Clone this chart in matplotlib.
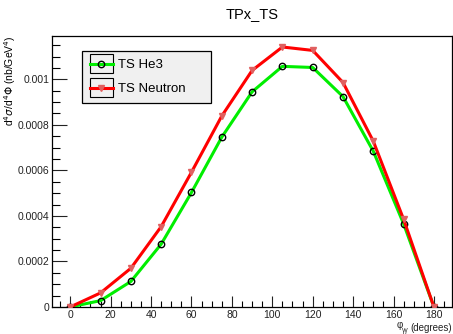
import matplotlib
matplotlib.use("Agg")
import matplotlib.pyplot as plt
from matplotlib.legend_handler import HandlerLine2D
from matplotlib.patches import Rectangle
from matplotlib.ticker import MultipleLocator, FixedFormatter, FixedLocator

phi = [0, 15, 30, 45, 60, 75, 90, 105, 120, 135, 150, 165, 180]
ts_he3 = [0.0, 0.0000278, 0.000112, 0.000276, 0.000503, 0.000746, 0.000945,
          0.001057, 0.001052, 0.000924, 0.000684, 0.000365, 0.0]
ts_neutron = [0.0, 0.0000618, 0.000170, 0.000353, 0.000592, 0.000839, 0.001039,
              0.001142, 0.001127, 0.000986, 0.000728, 0.000385, 0.0]

x_ticks = [0, 20, 40, 60, 80, 100, 120, 140, 160, 180]
y_ticks = [0, 0.0002, 0.0004, 0.0006, 0.0008, 0.001]
y_labels = ["0", "0.0002", "0.0004", "0.0006", "0.0008", "0.001"]

plt.rcParams['font.family'] = ['Liberation Sans', 'DejaVu Sans']


class BoxedLine(HandlerLine2D):
    # ROOT style legend symbol: line + marker inside a small frame
    def create_artists(self, legend, orig_handle, xdescent, ydescent,
                       width, height, fontsize, trans):
        artists = super().create_artists(legend, orig_handle, xdescent, ydescent,
                                         width, height, fontsize, trans)
        box = Rectangle((-xdescent, -ydescent - 0.5 * height), width, height * 2.0,
                        facecolor='none', edgecolor='black', lw=0.8, transform=trans)
        return [box] + list(artists)


fig = plt.figure(figsize=(4.53, 3.34), dpi=100)
ax = fig.add_axes([0.115, 0.081, 0.883, 0.811])

ax.plot(phi, ts_he3, color='#00ee00', lw=2.2, marker='o', ms=4.6,
        mfc='none', mec='black', mew=1.0, label='TS He3', zorder=3)
ax.plot(phi, ts_neutron, color='#ff0000', lw=2.2, marker='v', ms=4,
        mfc='#e06060', mec='#e06060', label='TS Neutron', zorder=4)

ax.set_xticks(x_ticks)
ax.set_xlim(-9, 189)
ax.set_ylim(0, 0.00119)
ax.xaxis.set_minor_locator(MultipleLocator(5))
ax.yaxis.set_major_locator(FixedLocator(y_ticks))
ax.yaxis.set_major_formatter(FixedFormatter(y_labels))
ax.yaxis.set_minor_locator(MultipleLocator(0.00005))
ax.tick_params(axis='both', which='major', direction='in', width=0.8,
               labelsize=7.5, pad=2, colors='#222222')
ax.tick_params(axis='x', which='major', length=8)
ax.tick_params(axis='y', which='major', length=11)
ax.tick_params(axis='x', which='minor', direction='in', length=4.5, width=0.8)
ax.tick_params(axis='y', which='minor', direction='in', length=6, width=0.8)
for s in ax.spines.values():
    s.set_linewidth(0.9)

fig.text(0.557, 0.958, "TPx_TS", ha='center', va='center', fontsize=10.5)
fig.text(0.022, 0.895, r"d$^{4}\sigma$/d$^{4}\Phi$ (nb/GeV$^{4}$)", rotation=90,
         ha='center', va='top', fontsize=7.5)
# x title: phi_{gamma gamma} (degrees), pieces placed separately like ROOT
fig.text(0.997, 0.003, "(degrees)", ha='right', va='bottom', fontsize=7,
         color='#222222')
fig.text(0.875, 0.012, "φ", ha='left', va='bottom', fontsize=7, color='#222222')
fig.text(0.888, 0.0, "γγ", ha='left', va='bottom', fontsize=4.8, color='#222222')

leg = ax.legend(loc='upper left', bbox_to_anchor=(0.0744, 0.75, 0.324, 0.195),
                mode='expand', borderaxespad=0, fancybox=False, fontsize=9.5,
                handlelength=1.75, handletextpad=0.4, labelspacing=0.9,
                borderpad=0.6, handler_map={plt.Line2D: BoxedLine()})
leg.get_frame().set_facecolor('#f0f0f0')
leg.get_frame().set_edgecolor('black')
leg.get_frame().set_linewidth(0.9)
leg.get_frame().set_alpha(1)

fig.savefig("out.png", dpi=100)
